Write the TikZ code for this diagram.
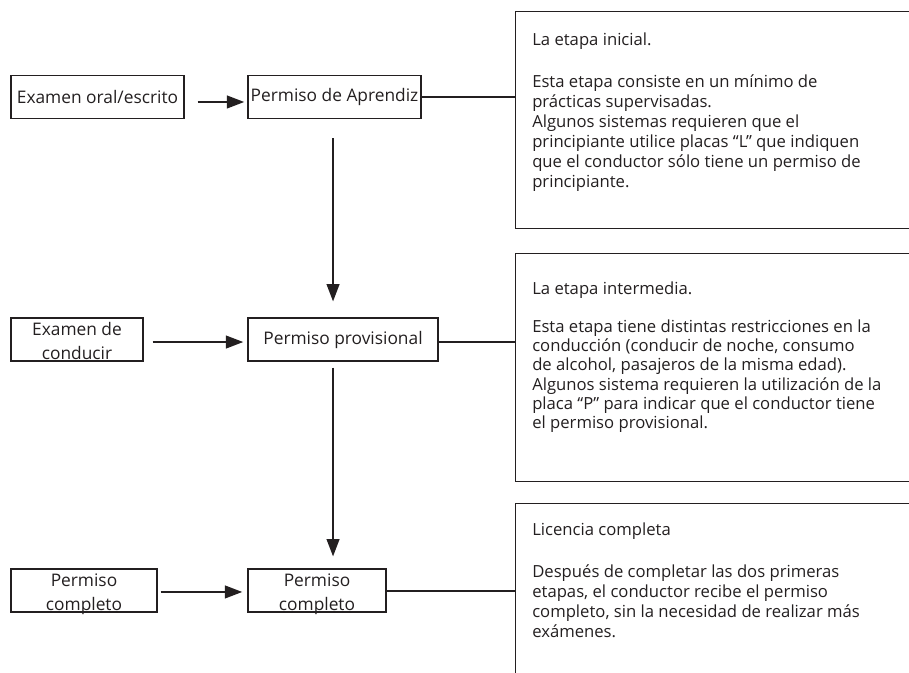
\documentclass[tikz,border=0pt]{standalone}
\usepackage{fontspec}
\setmainfont{Open Sans}
\usetikzlibrary{arrows.meta}
\definecolor{ink}{HTML}{231F20}
\tikzset{
  box/.style={draw=ink, line width=1.1pt, inner sep=0pt, minimum height=32pt, align=center, text=ink, font=\fontsize{13}{18}\selectfont},
  twoline/.style={text height=30pt, text depth=0pt},
  panel/.style={draw=ink, line width=1.1pt, anchor=north west, minimum width=330pt, inner sep=0pt},
  note/.style={anchor=base west, align=left, inner sep=0pt, text=ink, font=\fontsize{12.5}{15}\selectfont},
  arr/.style={draw=ink, line width=1.5pt, -{Triangle[length=13pt,width=9.5pt]}},
  link/.style={draw=ink, line width=1.5pt}
}
\begin{document}
\begin{tikzpicture}[x=0.75pt,y=-0.75pt]
\useasboundingbox (0,0) rectangle (909,673);
\clip (0,0) rectangle (909,673);

\node[box, minimum width=129.75pt](oral) at (97.5,97) {Examen oral/escrito};
\node[box, minimum width=129.75pt](aprendiz) at (334.5,97) {Permiso de Aprendiz};
\node[box, twoline, minimum width=99pt](conducir) at (77,339.5) {Examen de\\conducir};
\node[box, minimum width=142.5pt](provisional) at (343,339.5) {Permiso provisional};
\node[box, twoline, minimum width=109.5pt](completo1) at (84,590.5) {Permiso\\completo};
\node[box, twoline, minimum width=103.5pt](completo2) at (317,590.5) {Permiso\\completo};

\node[panel, minimum height=162.75pt](inicial) at (515,11) {};
\node[panel, minimum height=171pt](intermedia) at (515,253) {};
\node[panel, minimum height=200pt](licencia) at (515,503) {};

\node[note](txtinicial) at (532,187.5) {La etapa inicial.\\[16.5pt]
Esta etapa consiste en un mínimo de\\
prácticas supervisadas.\\
Algunos sistemas requieren que el\\
principiante utilice placas “L” que indiquen\\
que el conductor sólo tiene un permiso de\\
principiante.};
\node[note, font=\fontsize{12.5}{14.4}\selectfont](txtintermedia) at (532,428.5) {La etapa intermedia.\\[13.8pt]
Esta etapa tiene distintas restricciones en la\\
conducción (conducir de noche, consumo\\
de alcohol, pasajeros de la misma edad).\\
Algunos sistema requieren la utilización de la\\
placa “P” para indicar que el conductor tiene\\
el permiso provisional.};
\node[note](txtlicencia) at (532,637.5) {Licencia completa\\[16.5pt]
Después de completar las dos primeras\\
etapas, el conductor recibe el permiso\\
completo, sin la necesidad de realizar más\\
exámenes.};

\path ([yshift=-3.75pt]oral.east) edge[arr, shorten <=9.75pt, shorten >=2.25pt] ([yshift=-3.75pt]oral.east -| aprendiz.west);
\path ([yshift=-1.9pt]conducir.east) edge[arr, shorten <=6.75pt, shorten >=3pt] ([yshift=-1.9pt]conducir.east -| provisional.west);
\path ([yshift=-1.1pt]completo1.east) edge[arr, shorten <=2.25pt, shorten >=3.75pt] ([yshift=-1.1pt]completo1.east -| completo2.west);

\path ([xshift=-1.1pt]aprendiz.south) edge[arr, shorten <=14.25pt, shorten >=12pt] ([xshift=-1.1pt]aprendiz.south |- provisional.north);
\path ([xshift=-1.1pt]aprendiz.south |- provisional.south) edge[arr, shorten <=4.5pt, shorten >=9pt] ([xshift=-1.1pt]aprendiz.south |- completo2.north);

\path (aprendiz.east) edge[link] (aprendiz.east -| inicial.west);
\path ([yshift=-1.5pt]provisional.east) edge[link] ([yshift=-1.5pt]provisional.east -| intermedia.west);
\path (completo2.east) edge[link] (completo2.east -| licencia.west);
\end{tikzpicture}
\end{document}
